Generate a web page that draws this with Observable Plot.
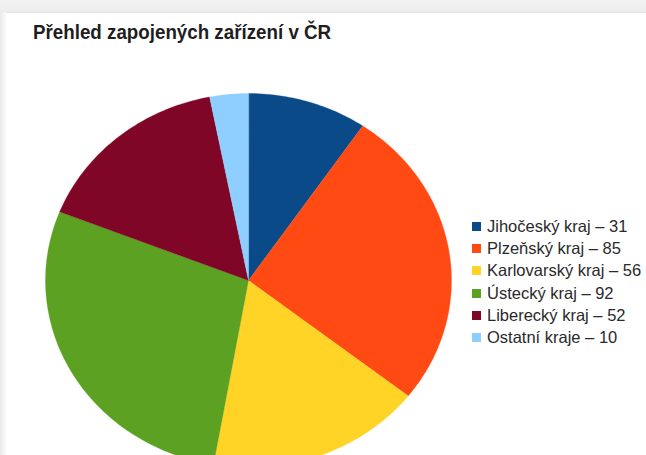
<!DOCTYPE html>
<html>
<head>
<meta charset="utf-8">
<script src="https://cdn.jsdelivr.net/npm/d3@7"></script>
<script src="https://cdn.jsdelivr.net/npm/@observablehq/plot@0.6"></script>
<style>
  html, body { margin: 0; padding: 0; overflow: hidden; background: #fff; }
  #wrap { position: relative; width: 646px; height: 455px; overflow: hidden; background: #fff;
          font-family: "Liberation Sans", Arial, sans-serif; }
  #topband { position: absolute; left: 0; top: 0; width: 646px; height: 12px;
             background: linear-gradient(#f3f3f3, #ececec); border-bottom: 1px solid #e2e2e2; }
  #leftband { position: absolute; left: 0; top: 12px; width: 6px; height: 443px;
              background: linear-gradient(to right, #e9e9e9, #fbfbfb); }
  #chart { position: absolute; left: 0; top: 0; }
  #title { position: absolute; left: 33px; top: 22px; font-size: 20.5px; font-weight: bold;
           color: #1e1e1e; line-height: 1; white-space: nowrap;
           transform: scaleX(0.915); transform-origin: left center; }
  .row { position: absolute; left: 472px; height: 22px; display: flex; align-items: center;
         font-size: 16.5px; color: #2a2a2a; white-space: nowrap; }
  .sw { width: 9px; height: 9px; margin-right: 6px; }
</style>
</head>
<body>
<div id="wrap">
  <div id="topband"></div>
  <div id="leftband"></div>
  <div id="chart"></div>
  <div id="title">Přehled zapojených zařízení v ČR</div>
  <div id="legend"></div>
</div>
<script>
const regions = ["Jihočeský kraj", "Plzeňský kraj", "Karlovarský kraj", "Ústecký kraj", "Liberecký kraj", "Ostatní kraje"];
const values = [31, 85, 56, 92, 52, 10];
const colors = ["#0a4a89", "#ff4b13", "#ffd426", "#5ca122", "#7f0627", "#8ecfff"];

const total = d3.sum(values);
const points = [];
let acc = 0;
regions.forEach((r, i) => {
  const a0 = acc / total * 2 * Math.PI;
  acc += values[i];
  const a1 = acc / total * 2 * Math.PI;
  points.push({region: r, x: 0, y: 0});
  const n = Math.max(2, Math.ceil((a1 - a0) / (Math.PI / 180)));
  for (let k = 0; k <= n; k++) {
    const a = a0 + (a1 - a0) * k / n;
    points.push({region: r, x: Math.sin(a), y: Math.cos(a)});
  }
});

const cx = 248, cy = 280, rx = 203, ry = 187;
const plot = Plot.plot({
  width: 646,
  height: 455,
  margin: 0,
  x: {domain: [-1, 1], range: [cx - rx, cx + rx], axis: null},
  y: {domain: [-1, 1], range: [cy + ry, cy - ry], axis: null},
  color: {domain: regions, range: colors},
  style: {background: "transparent", overflow: "hidden"},
  marks: [
    Plot.line(points, {x: "x", y: "y", z: "region", fill: "region", stroke: "region", strokeWidth: 0.3, curve: "linear-closed"})
  ]
});
document.getElementById("chart").appendChild(plot);

const legend = document.getElementById("legend");
const rowTop = 215, rowStep = 22.35;
regions.forEach((r, i) => {
  const row = document.createElement("div");
  row.className = "row";
  row.style.top = (rowTop + i * rowStep) + "px";
  const sw = document.createElement("div");
  sw.className = "sw";
  sw.style.background = colors[i];
  const t = document.createElement("span");
  t.textContent = `${r} – ${values[i]}`;
  row.appendChild(sw);
  row.appendChild(t);
  legend.appendChild(row);
});
</script>
</body>
</html>
